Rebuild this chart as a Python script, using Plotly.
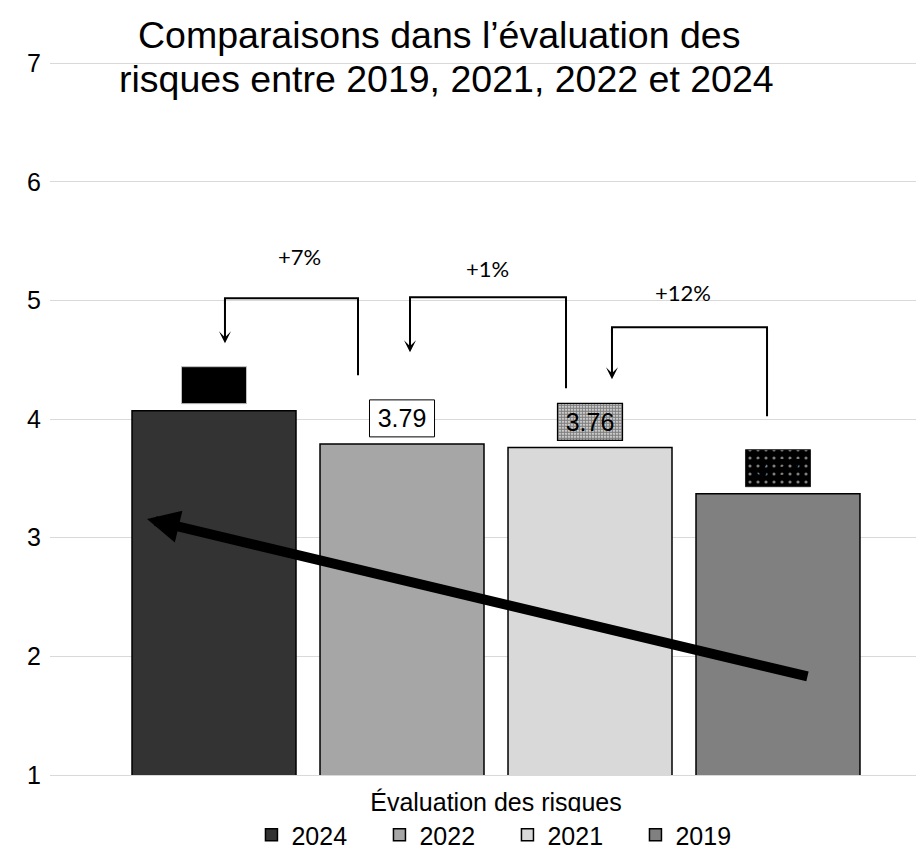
import plotly.graph_objects as go

# ---------------- data ----------------
category = ["Évaluation des risques"]
years = ["2024", "2022", "2021", "2019"]
scores = [4.07, 3.79, 3.76, 3.37]
changes = ["+7%", "+1%", "+12%"]
title_lines = ["Comparaisons dans l’évaluation des",
               "risques entre 2019, 2021, 2022 et 2024"]

# ---------------- styles ----------------
bar_colors = ["#333333", "#a6a6a6", "#d9d9d9", "#808080"]
FONT = "Liberation Sans, Arial, sans-serif"
FS = 25

BARGAP = 0.1396
BARGROUPGAP = 0.1277
slot = (1 - BARGAP) / len(years)
centers = [(i - (len(years) - 1) / 2) * slot for i in range(len(years))]

# label boxes (value labels above bars)
box_w = 0.0744
box_gap = 0.06
box_h = 0.312
box_styles = [
    dict(color="#000000", line=dict(color="#bfbfbf", width=1)),
    dict(color="#ffffff", line=dict(color="#000000", width=1)),
    dict(color="#ffffff", line=dict(color="#000000", width=1.2),
         pattern=dict(shape=".", fgcolor="#000000", bgcolor="#ffffff", size=3, solidity=0.75)),
    dict(color="#000000", line=dict(color="#262626", width=1),
         pattern=dict(shape=".", fgcolor="#ffffff", bgcolor="#000000", size=8, solidity=0.12)),
]

fig = go.Figure()
for yr, v, c in zip(years, scores, bar_colors):
    fig.add_trace(go.Bar(
        x=category, y=[v], name=yr,
        marker=dict(color=c, line=dict(color="#000000", width=1.5)),
        hoverinfo="skip",
    ))

for v, cx, st in zip(scores, centers, box_styles):
    fig.add_trace(go.Bar(
        x=category, y=[box_h], base=[v + box_gap],
        width=box_w, offset=cx - box_w / 2,
        text=[f"{v:.2f}"], textposition="inside", insidetextanchor="middle",
        textangle=0, constraintext="none",
        textfont=dict(family=FONT, size=FS, color="#000000"),
        marker=st, showlegend=False, hoverinfo="skip",
    ))

# bracket arrows: (x_left/target, x_right/source, y_top, y_tip, y_bottom, label_x, label_y)
brackets = [
    (-0.3101, -0.1579, 5.0185, 4.6395, 4.3699, -0.2243, 5.3724),
    (-0.0984, 0.0801, 5.0270, 4.5636, 4.2603, -0.0103, 5.2713),
    (0.1327, 0.3101, 4.7742, 4.3361, 4.0244, 0.2140, 5.0690),
]
annotations = []
shapes = []
for (xl, xr, yt, ytip, yb, lx, ly), lab in zip(brackets, changes):
    shapes.append(dict(type="path", xref="x", yref="y",
                       path=f"M {xr} {yb} L {xr} {yt} L {xl} {yt} L {xl} {yt - 0.05}",
                       line=dict(color="#000000", width=2)))
    annotations.append(dict(x=xl, y=ytip, ax=xl, ay=yt, xref="x", yref="y",
                            axref="x", ayref="y", text="", showarrow=True,
                            arrowhead=3, arrowsize=1.0, arrowwidth=2,
                            arrowcolor="#000000", standoff=0))
    annotations.append(dict(x=lx, y=ly, xref="x", yref="y", text=lab,
                            showarrow=False,
                            font=dict(family="Lato, Carlito, sans-serif", size=22, color="#000000")))

# big trend arrow
annotations.append(dict(x=-0.3993, y=3.157, ax=0.3581, ay=1.826,
                        xref="x", yref="y", axref="x", ayref="y",
                        text="", showarrow=True, arrowhead=2, arrowsize=0.65,
                        arrowwidth=10, arrowcolor="#000000", standoff=0))

# title as two lines
for txt, xp, yp in zip(title_lines, [0.4451, 0.4531], [1.0379, 0.9762]):
    annotations.append(dict(x=xp, y=yp, xref="paper", yref="paper",
                            text=txt, showarrow=False, xanchor="center", yanchor="middle",
                            font=dict(family=FONT, size=37.5, color="#000000")))

fig.update_layout(
    width=916, height=846,
    margin=dict(l=42, r=0, t=54, b=79, autoexpand=False),
    paper_bgcolor="#ffffff", plot_bgcolor="#ffffff",
    barmode="group", bargap=BARGAP, bargroupgap=BARGROUPGAP,
    font=dict(family=FONT, size=FS, color="#000000"),
    showlegend=True,
    legend=dict(orientation="h", x=0.2305, xanchor="left", y=-0.052, yanchor="top",
                font=dict(family=FONT, size=FS, color="#000000"),
                itemwidth=30, entrywidth=83, entrywidthmode="pixels",
                traceorder="normal"),
    xaxis=dict(type="category", range=[-0.5103, 0.4897], showgrid=False,
               showline=True, linecolor="#d9d9d9", linewidth=1, ticks="",
               ticklabelstandoff=5,
               tickfont=dict(family=FONT, size=FS, color="#000000"), fixedrange=True),
    yaxis=dict(range=[0.998, 7.012], tickvals=[1, 2, 3, 4, 5, 6, 7], showgrid=True,
               gridcolor="#d9d9d9", gridwidth=1, zeroline=False, showline=False, ticks="",
               ticklabelstandoff=8,
               tickfont=dict(family=FONT, size=FS, color="#000000"), fixedrange=True),
    annotations=annotations, shapes=shapes,
)

fig.write_html("out.html")
